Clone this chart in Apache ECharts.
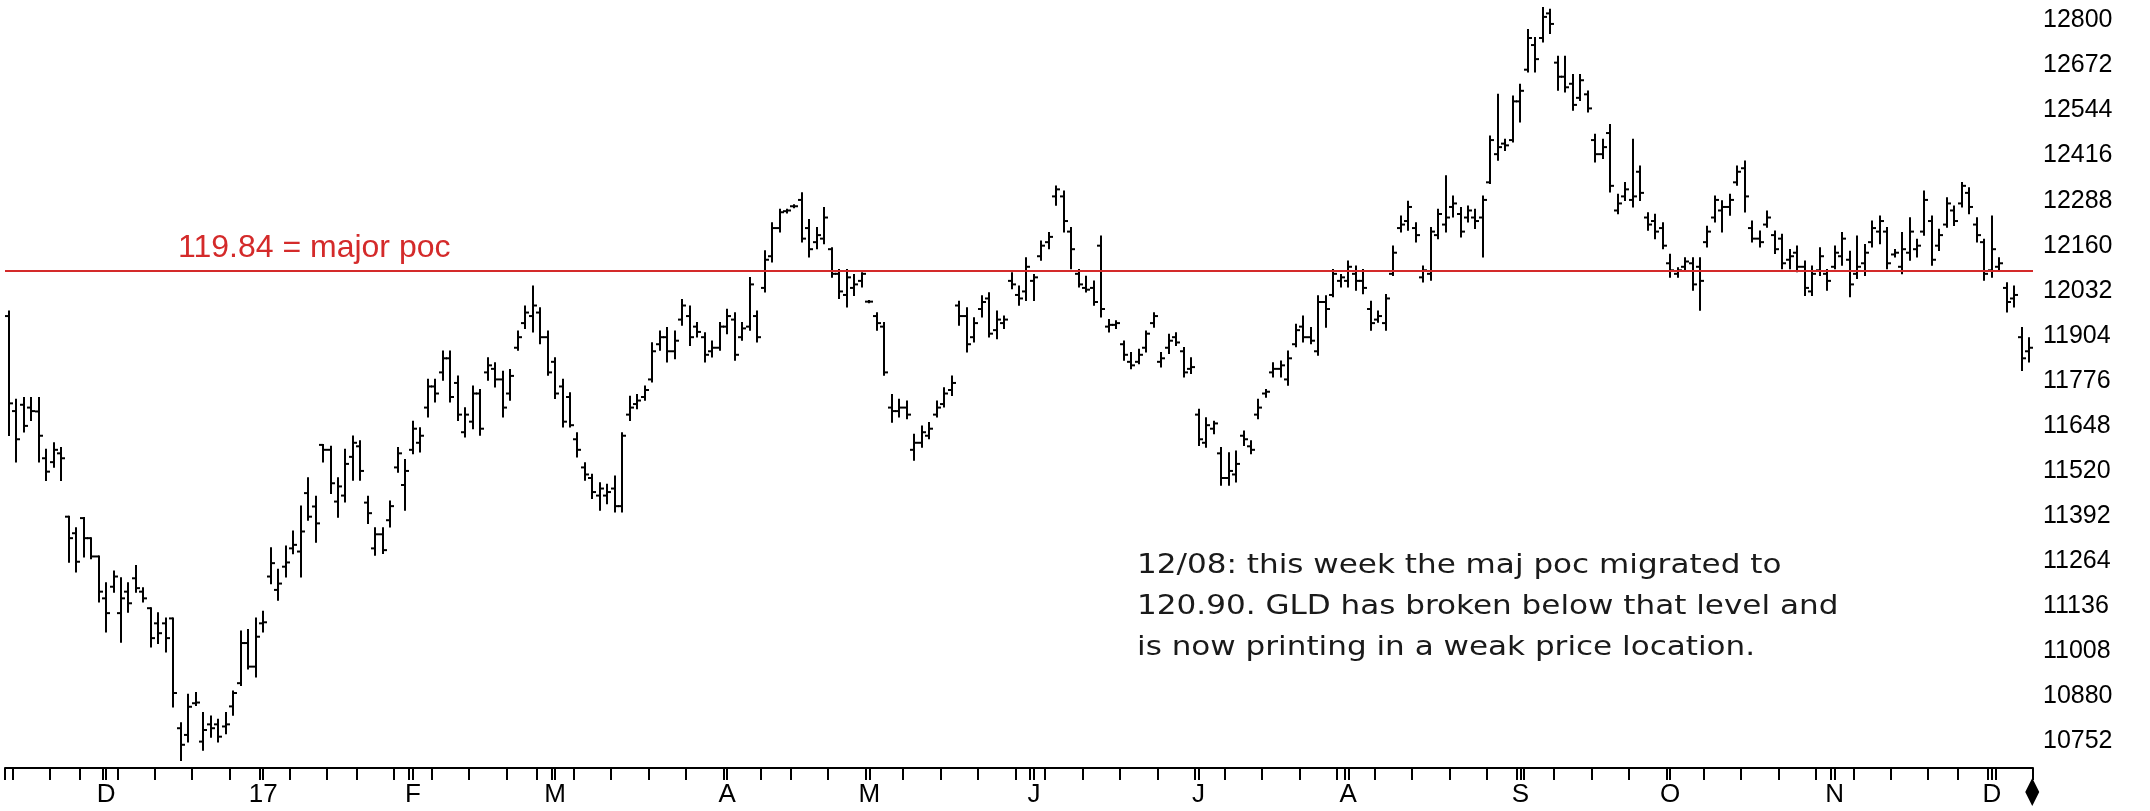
<!DOCTYPE html>
<html><head><meta charset="utf-8">
<script src="https://cdn.jsdelivr.net/npm/echarts@6/dist/echarts.min.js"></script>
<style>html,body{margin:0;padding:0;background:#fff}#c{width:2150px;height:811px}</style>
</head><body><div id="c"></div>
<script>
// ---- calendar (trading days) ----
const firstDate = '2016-11-11';
const marketHolidays = ['2016-11-24','2016-12-26','2017-01-02','2017-01-16','2017-02-20','2017-04-14','2017-05-29','2017-07-04','2017-09-04','2017-11-23'];
const monthLetters = ['J','F','M','A','M','J','J','A','S','O','N','D'];

// ---- GLD daily bars (price x 100) ----
const opens = [
11960,11690,11708,11700,11689,11556,11545,11570,11390,11343,
11386,11329,11277,11158,11191,11116,11177,11215,11177,11130,
11087,11087,11101,10789,10770,10860,10751,10800,10800,10794,
10851,10917,11031,10964,11087,11220,11182,11248,11300,11291,
11457,11419,11594,11580,11433,11450,11560,11590,11430,11300,
11340,11380,11530,11480,11580,11600,11700,11760,11800,11840,
11770,11630,11660,11740,11800,11810,11780,11740,11870,11940,
11960,11970,11900,11830,11760,11730,11610,11530,11500,11450,
11450,11470,11420,11680,11710,11730,11780,11880,11900,11860,
11950,11960,11930,11900,11860,11870,11930,11950,11900,11930,
11960,12040,12130,12210,12258,12272,12290,12210,12170,12180,
12150,12080,12020,12040,12060,12001,11960,11930,11700,11690,
11700,11580,11600,11620,11680,11710,11750,11990,11960,11900,
11980,12010,11920,11940,12060,12020,12030,12060,12130,12170,
12300,12300,12200,12080,12040,12040,12160,11930,11935,11880,
11830,11830,11870,11940,11830,11870,11900,11860,11810,11680,
11600,11640,11570,11500,11510,11620,11590,11680,11740,11800,
11810,11780,11880,11930,11900,11860,12000,12020,12060,12060,
12080,12060,11980,11950,11940,12080,12210,12230,12210,12070,
12080,12190,12220,12270,12250,12240,12240,12240,12340,12420,
12450,12460,12570,12660,12730,12750,12820,12680,12640,12620,
12580,12590,12460,12420,12480,12260,12300,12290,12370,12240,
12230,12210,12110,12080,12100,12110,12100,12170,12240,12260,
12270,12340,12380,12210,12180,12220,12190,12180,12120,12140,
12100,12030,12090,12080,12100,12130,12120,12080,12110,12170,
12200,12200,12135,12100,12140,12150,12200,12230,12160,12220,
12260,12280,12310,12220,12170,12090,12100,12040,12010,11900,11860];
const highs = [
11973,11722,11727,11727,11727,11580,11599,11585,11390,11357,
11386,11329,11277,11201,11234,11215,11201,11250,11187,11130,
11116,11101,11101,10803,10884,10889,10832,10822,10813,10832,
10893,11064,11068,11101,11120,11300,11239,11305,11348,11419,
11499,11447,11594,11589,11499,11580,11618,11604,11447,11357,
11357,11433,11585,11551,11660,11641,11779,11779,11859,11859,
11788,11698,11760,11750,11840,11826,11802,11807,11916,11987,
12044,11982,11916,11840,11779,11741,11627,11542,11509,11485,
11481,11504,11627,11731,11736,11760,11883,11916,11926,11916,
12006,11987,11940,11911,11888,11940,11978,11968,11940,12068,
11973,12144,12224,12262,12262,12275,12309,12233,12210,12267,
12153,12091,12091,12077,12082,12003,11968,11940,11736,11722,
11717,11623,11646,11656,11717,11755,11788,12001,11982,11954,
12016,12025,11973,11959,12082,12044,12124,12077,12172,12196,
12328,12314,12210,12091,12072,12058,12186,11949,11945,11888,
11855,11864,11916,11968,11855,11907,11911,11869,11840,11694,
11670,11660,11585,11570,11575,11632,11604,11722,11750,11826,
11831,11859,11935,11959,11926,12016,12016,12091,12077,12115,
12101,12091,12001,11973,12020,12158,12243,12285,12224,12101,
12210,12262,12357,12300,12267,12271,12262,12300,12470,12589,
12461,12584,12617,12773,12750,12835,12830,12697,12697,12645,
12645,12598,12475,12461,12503,12305,12338,12461,12385,12252,
12248,12224,12134,12096,12124,12124,12124,12214,12300,12286,
12305,12385,12399,12229,12200,12257,12200,12191,12148,12158,
12115,12101,12153,12091,12158,12196,12143,12186,12162,12229,
12243,12210,12148,12196,12238,12177,12314,12243,12205,12295,
12271,12338,12323,12238,12177,12243,12124,12053,12044,11926,11897];
const lows = [
11622,11547,11632,11665,11547,11494,11532,11494,11262,11234,
11277,11272,11149,11064,11177,11035,11120,11177,11149,11021,
11031,11007,10851,10699,10751,10855,10728,10765,10751,10775,
10827,10912,10959,10936,11064,11201,11154,11220,11286,11220,
11381,11319,11547,11457,11390,11433,11495,11495,11372,11282,
11287,11362,11518,11410,11570,11575,11675,11717,11779,11717,
11665,11618,11641,11623,11779,11760,11675,11722,11864,11926,
11916,11883,11793,11727,11646,11646,11561,11495,11443,11410,
11428,11405,11405,11665,11698,11722,11774,11864,11831,11840,
11935,11878,11902,11831,11845,11864,11911,11836,11893,11921,
11888,12030,12115,12200,12254,12269,12172,12129,12153,12167,
12072,12011,11987,12020,12044,11999,11921,11793,11660,11675,
11670,11552,11589,11613,11675,11703,11736,11935,11859,11888,
11959,11902,11897,11926,12039,11992,12006,12006,12120,12153,
12276,12200,12096,12044,12030,11992,11959,11916,11926,11836,
11812,11826,11859,11930,11817,11855,11878,11788,11798,11594,
11589,11627,11481,11481,11490,11594,11570,11670,11731,11788,
11788,11765,11874,11888,11883,11850,11930,12016,12044,12044,
12035,12025,11921,11944,11921,12077,12200,12205,12172,12058,
12063,12181,12200,12243,12186,12229,12210,12129,12338,12404,
12432,12456,12513,12655,12655,12740,12764,12603,12598,12546,
12574,12541,12399,12409,12314,12252,12290,12271,12290,12205,
12181,12153,12072,12072,12091,12035,11978,12158,12229,12200,
12248,12333,12257,12172,12158,12214,12139,12096,12096,12087,
12020,12020,12077,12035,12096,12106,12016,12068,12077,12158,
12167,12096,12129,12082,12120,12129,12191,12106,12148,12214,
12219,12271,12252,12172,12063,12072,12091,11973,11987,11807,11831];
const closes = [
11712,11610,11648,11690,11620,11518,11580,11556,11329,11262,
11329,11277,11177,11116,11220,11158,11144,11187,11158,11045,
11059,11045,10889,10742,10850,10862,10784,10789,10765,10800,
10889,11031,10964,11049,11090,11258,11200,11260,11310,11348,
11390,11371,11580,11485,11476,11540,11600,11520,11400,11340,
11295,11420,11570,11520,11640,11620,11760,11740,11840,11730,
11680,11680,11740,11640,11820,11780,11700,11790,11900,11970,
11990,11900,11800,11740,11660,11650,11580,11510,11460,11470,
11460,11420,11620,11700,11720,11750,11860,11900,11860,11890,
11990,11900,11915,11850,11870,11930,11960,11850,11925,12050,
11900,12120,12210,12255,12260,12272,12180,12150,12190,12240,
12080,12030,12070,12050,12080,12001,11940,11800,11690,11700,
11680,11600,11630,11640,11700,11740,11770,11960,11880,11940,
12000,11910,11950,11950,12050,12010,12100,12070,12160,12185,
12320,12230,12150,12050,12035,12000,11980,11935,11940,11850,
11820,11850,11910,11960,11840,11890,11885,11800,11815,11610,
11650,11655,11500,11520,11540,11610,11580,11700,11745,11810,
11820,11840,11920,11900,11890,12000,11980,12080,12070,12100,
12060,12040,11940,11960,12010,12140,12220,12270,12190,12090,
12200,12250,12240,12280,12200,12260,12230,12290,12460,12440,
12445,12570,12600,12750,12690,12810,12790,12640,12610,12560,
12630,12550,12420,12440,12330,12280,12320,12300,12310,12220,
12200,12160,12090,12090,12115,12050,12060,12200,12290,12270,
12290,12370,12300,12180,12170,12240,12150,12110,12130,12100,
12040,12080,12130,12060,12140,12180,12050,12100,12140,12210,
12230,12110,12140,12150,12200,12160,12290,12120,12190,12280,
12230,12330,12270,12190,12080,12150,12110,12000,12020,11840,11870];

const pocLevel = 12090;
const pocLabel = '119.84 = major poc';
const noteLines = [
  '12/08: this week the maj poc migrated to',
  '120.90. GLD has broken below that level and',
  'is now printing in a weak price location.'
];
const yTickValues = [10752,10880,11008,11136,11264,11392,11520,11648,11776,11904,12032,12160,12288,12416,12544,12672,12800];
const yMin = 10676, yMax = 12858;

// ---- build trading-day categories ----
const dates = [];
(function () {
  const hol = new Set(marketHolidays);
  let d = new Date(firstDate + 'T00:00:00Z');
  while (dates.length < highs.length) {
    const dow = d.getUTCDay();
    const s = d.toISOString().slice(0, 10);
    if (dow !== 0 && dow !== 6 && !hol.has(s)) dates.push(s);
    d = new Date(d.getTime() + 86400000);
  }
})();
const dObj = dates.map(s => new Date(s + 'T00:00:00Z'));
const isMonthStart = dates.map((s, i) => i > 0 && dObj[i].getUTCMonth() !== dObj[i - 1].getUTCMonth());
const isWeekStart = dates.map((s, i) => i === 0 || dObj[i].getUTCDay() <= dObj[i - 1].getUTCDay() || (dObj[i] - dObj[i - 1]) >= 7 * 86400000);
function monthLabel(i) {
  const m = dObj[i].getUTCMonth();
  return m === 0 ? String(dObj[i].getUTCFullYear() % 100) : monthLetters[m];
}

const ohlc = dates.map((s, i) => [i, opens[i], highs[i], lows[i], closes[i]]);

const FONT = '"Liberation Sans", Arial, sans-serif';
const chart = echarts.init(document.getElementById('c'), null, { renderer: 'canvas' });

chart.setOption({
  animation: false,
  backgroundColor: '#ffffff',
  grid: { left: 5, right: 117, top: 0, bottom: 43, containLabel: false },
  xAxis: [
    {
      type: 'category', data: dates, boundaryGap: true, position: 'bottom',
      axisLine: { show: true, lineStyle: { color: '#000', width: 2 } },
      axisTick: { show: true, length: 12, lineStyle: { color: '#000', width: 2 },
        interval: (idx) => isWeekStart[idx] || isMonthStart[idx] },
      axisLabel: { show: true, interval: (idx) => isMonthStart[idx],
        formatter: (val, idx) => monthLabel(idx),
        fontSize: 26, fontFamily: FONT, color: '#000', margin: 14 },
      splitLine: { show: false }
    },
    {
      type: 'category', data: dates, boundaryGap: true, position: 'bottom',
      axisLine: { show: false },
      axisTick: { show: true, length: 12, alignWithLabel: true, lineStyle: { color: '#000', width: 2 },
        interval: (idx) => isMonthStart[idx] },
      axisLabel: { show: false },
      splitLine: { show: false }
    }
  ],
  yAxis: {
    type: 'value', position: 'right', min: yMin, max: yMax, scale: true,
    axisLine: { show: false }, axisTick: { show: false }, splitLine: { show: false },
    axisLabel: { show: true, customValues: yTickValues, formatter: (v) => String(Math.round(v)),
      fontSize: 25, fontFamily: FONT, color: '#000', margin: 10 }
  },
  series: [{
    type: 'custom',
    xAxisIndex: 0, yAxisIndex: 0,
    data: ohlc,
    encode: { x: 0, y: [1, 2, 3, 4] },
    renderItem: function (params, api) {
      const i = api.value(0);
      const pH = api.coord([i, api.value(2)]);
      const pL = api.coord([i, api.value(3)]);
      const pO = api.coord([i, api.value(1)]);
      const pC = api.coord([i, api.value(4)]);
      const x = Math.round(pH[0]);
      const st = { stroke: '#000', lineWidth: 2 };
      return { type: 'group', children: [
        { type: 'line', shape: { x1: x, y1: pH[1] - 1, x2: x, y2: pL[1] + 1 }, style: st },
        { type: 'line', shape: { x1: x - 4, y1: pO[1], x2: x, y2: pO[1] }, style: st },
        { type: 'line', shape: { x1: x, y1: pC[1], x2: x + 4, y2: pC[1] }, style: st }
      ]};
    },
    markLine: {
      silent: true, symbol: 'none', animation: false,
      label: { show: false },
      lineStyle: { color: '#d42a2a', width: 2, type: 'solid' },
      data: [{ yAxis: pocLevel }]
    },
    z: 2
  }]
});

const lastX = chart.convertToPixel({ xAxisIndex: 0 }, dates.length - 1);
const dx = lastX + 3, dy = 792;
chart.setOption({
  graphic: [
    { type: 'text', x: 178, y: 232, z: 10,
      style: { text: pocLabel, fontSize: 32, lineHeight: 32, fontFamily: FONT, fill: '#d42a2a', verticalAlign: 'top' } },
    { type: 'text', x: 1137, y: 545, scaleX: 1.15, z: 10,
      style: { text: noteLines.join('\n'), fontSize: 27, lineHeight: 41, fontFamily: '"DejaVu Sans", Verdana, sans-serif', fill: '#1a1a1a', verticalAlign: 'top' } },
    { type: 'polygon', z: 10,
      shape: { points: [[dx, dy - 14], [dx + 7, dy], [dx, dy + 14], [dx - 7, dy]] },
      style: { fill: '#000' } }
  ]
});
</script>
</body></html>
